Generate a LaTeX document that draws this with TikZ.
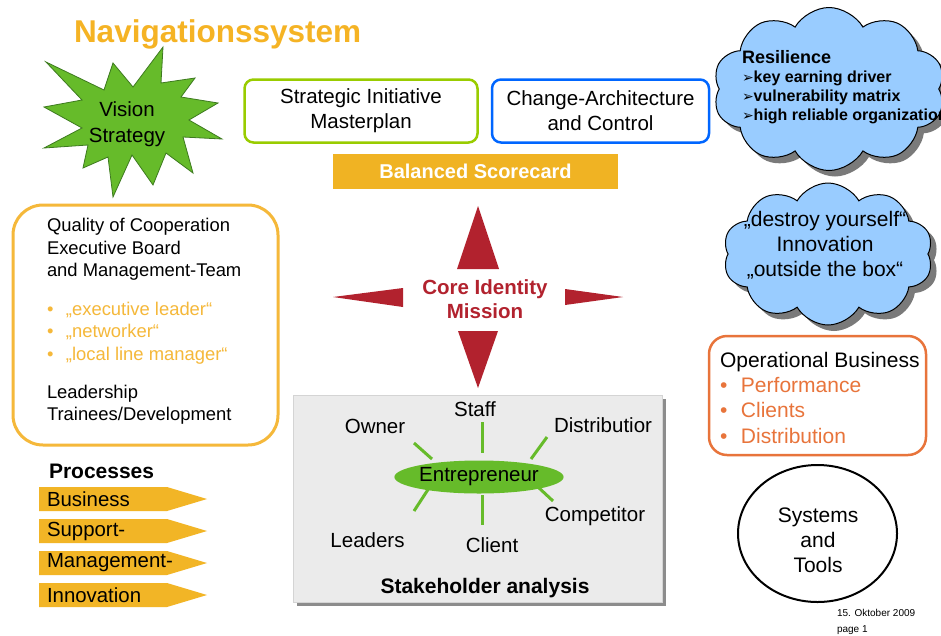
\documentclass[tikz,border=0pt]{standalone}
\usepackage{fontspec}
\setmainfont{Liberation Sans}
\newfontfamily\dvfont{DejaVu Sans}
\usetikzlibrary{shapes.symbols,shapes.geometric}
\definecolor{torange}{HTML}{F5B324}
\definecolor{bsorange}{HTML}{F0B323}
\definecolor{lborange}{HTML}{F5B83A}
\definecolor{procorange}{HTML}{F2B526}
\definecolor{stargreen}{HTML}{66BB2A}
\definecolor{stardark}{HTML}{3D7A1F}
\definecolor{boxgreen}{HTML}{99CC00}
\definecolor{boxblue}{HTML}{0066FF}
\definecolor{cloudblue}{HTML}{99CCFF}
\definecolor{shgray}{HTML}{7A7A7A}
\definecolor{oporange}{HTML}{E8743B}
\definecolor{cred}{HTML}{B2222E}
\definecolor{sbg}{HTML}{EBEBEB}
\definecolor{sbord}{HTML}{D4D4D4}
\definecolor{sshadow}{HTML}{8C8C8C}
\newcommand{\fs}[2]{\fontsize{#1}{#2}\selectfont}
\newcommand{\arrowbul}{{\dvfont\fs{14}{14}➢}}
\begin{document}
\begin{tikzpicture}[x=1pt,y=-1pt,
  every node/.style={inner sep=0pt,outer sep=0pt},
  rbox/.style={rectangle,rounded corners=9pt,line width=2.5pt,align=center,font=\fs{20.5}{25}},
  cloudshape/.style={cloud,cloud puffs=10,cloud puff arc=120,cloud ignores aspect,fill=cloudblue,draw=black,line width=1pt},
  cloudshadow/.style={cloud,cloud puffs=10,cloud puff arc=120,cloud ignores aspect,fill=shgray,draw=none},
  stxt/.style={anchor=base,font=\fs{20.5}{25}},
  spoke/.style={draw=stargreen,line width=3pt},
  arrowtri/.style={fill=cred}]
\clip (0,0) rectangle (941,635);
\fill[white] (0,0) rectangle (941,635);

% title
\node[anchor=base west,text=torange,font=\bfseries\fs{31.5}{36}] (title) at (74,42) {Navigationssystem};

% star
\filldraw[fill=stargreen,draw=stardark,line width=0.8pt]
 (46,62) -- (104,90) -- (113,63) -- (133,87) -- (163,47) -- (161,83) -- (195,78) -- (181,97)
 -- (218,103) -- (189,120) -- (222,139) -- (183,137) -- (193,173) -- (166,153) -- (153,185)
 -- (132,155) -- (113,197) -- (108,157) -- (83,168) -- (88,145) -- (44,148) -- (82,128)
 -- (44,107) -- (82,100) -- cycle;
\node[align=center,font=\fs{20.5}{26}] (vision) at (127,124) {Vision\\Strategy};

% top boxes
\node[rbox,draw=boxgreen,minimum width=233pt,minimum height=63pt] (sim) at (361,111) {Strategic Initiative\\Masterplan};
\node[rbox,draw=boxblue,minimum width=217pt,minimum height=63pt] (cac) at (600.5,111) {Change-Architecture\\and Control};
\node[fill=bsorange,minimum width=285pt,minimum height=35pt,text=white,font=\bfseries\fs{20}{24}] (bsc) at (475.5,171.5) {Balanced Scorecard};

% cloud 1
\node[cloudshadow,minimum width=232pt,minimum height=163pt] (res-sh) at (835,95) {};
\node[cloudshape,minimum width=232pt,minimum height=163pt] (res) at (829,89) {};
\node[anchor=north west,align=left,font=\bfseries\fs{16}{19.3}] (restext) at (742,50)
 {{\fs{18}{19.3}Resilience}\\\arrowbul key earning driver\\\arrowbul vulnerability matrix\\\arrowbul high reliable organization};

% cloud 2
\node[cloudshadow,minimum width=210pt,minimum height=142pt] (inn-sh) at (834,260) {};
\node[cloudshape,minimum width=210pt,minimum height=142pt] (inn) at (828,254) {};
\node[align=center,font=\fs{21}{25.2}] (inntext) at (825,245) {„destroy yourself“\\Innovation\\„outside the box“};

% operational business
\node[draw=oporange,line width=2.5pt,rounded corners=18pt,minimum width=217pt,minimum height=119pt] (op) at (817.5,395.5) {};
\node[anchor=north west,align=left,font=\fs{21}{25.3}] (optext) at (720,352)
 {Operational Business\\
  \textcolor{oporange}{\makebox[21pt][l]{•}Performance}\\
  \textcolor{oporange}{\makebox[21pt][l]{•}Clients}\\
  \textcolor{oporange}{\makebox[21pt][l]{•}Distribution}};

% systems and tools
\node[ellipse,draw=black,line width=2pt,minimum width=159pt,minimum height=137pt] (sys) at (817.5,533.5) {};
\node[align=center,font=\fs{21}{25}] (systext) at (818,540.5) {Systems\\and\\Tools};

% date
\node[anchor=base west,font=\fs{10}{12}] (date) at (837,616) {15. Oktober 2009};
\node[anchor=base west,font=\fs{10}{12}] (page) at (837,632) {page 1};

% left box
\node[draw=lborange,line width=3pt,rounded corners=30pt,minimum width=265pt,minimum height=240pt] (lbox) at (145.5,325) {};
\node[anchor=north west,align=left,font=\fs{18.4}{22.3}] (lboxtext) at (47,218.6)
 {Quality of Cooperation\\
  Executive Board\\
  and Management-Team\\[16.7pt]
  \textcolor{lborange}{\makebox[19pt][l]{•}„executive leader“}\\
  \textcolor{lborange}{\makebox[19pt][l]{•}„networker“}\\
  \textcolor{lborange}{\makebox[19pt][l]{•}„local line manager“}\\[15.7pt]
  Leadership\\
  Trainees/Development};

% processes
\node[anchor=base west,font=\bfseries\fs{21}{25}] (proc) at (49,478) {Processes};
\foreach \y/\t [count=\i] in {499/Business,531/Support-,563/Management-,595/Innovation}{
  \fill[procorange] (39,\y-12) -- (167,\y-12) -- (207,\y) -- (167,\y+12) -- (39,\y+12) -- cycle;
  \node[anchor=west,font=\fs{20.4}{24}] (p\i) at (47,\y) {\t};
}

% core identity compass
\fill[arrowtri] (478,206) -- (499,269) -- (457,269) -- cycle;
\fill[arrowtri] (458,331) -- (498,331) -- (478,388) -- cycle;
\fill[arrowtri] (333,297) -- (403,288) -- (403,307) -- cycle;
\fill[arrowtri] (565,289) -- (623,297) -- (565,305) -- cycle;
\node[align=center,text=cred,font=\bfseries\fs{20.5}{24}] (core) at (485,299.5) {Core Identity\\Mission};

% stakeholder analysis
\fill[sshadow] (297,399) rectangle (666,606);
\node[fill=sbg,draw=sbord,line width=0.6pt,minimum width=369pt,minimum height=207pt] (stk) at (477.5,498.5) {};
\node[ellipse,fill=stargreen,minimum width=144pt,minimum height=33pt,font=\fs{20.5}{25}] (ent) at (479,477) {Entrepreneur};
\coordinate (a1) at (482,422); \coordinate (a2) at (482,453);
\coordinate (b1) at (482,495); \coordinate (b2) at (482,525);
\coordinate (c1) at (414,443); \coordinate (c2) at (432,459);
\coordinate (d1) at (547,437); \coordinate (d2) at (531,459);
\coordinate (e1) at (414,511); \coordinate (e2) at (429,488);
\coordinate (f1) at (538,487); \coordinate (f2) at (553,501);
\draw[spoke] (a1) -- (a2);
\draw[spoke] (b1) -- (b2);
\draw[spoke] (c1) -- (c2);
\draw[spoke] (d1) -- (d2);
\draw[spoke] (e1) -- (e2);
\draw[spoke] (f1) -- (f2);
\node[stxt] (staff) at (475,416) {Staff};
\node[stxt] (owner) at (375,433) {Owner};
\node[stxt] (distr) at (603,432) {Distributior};
\node[stxt] (comp) at (595,521) {Competitor};
\node[stxt] (lead) at (367.5,547) {Leaders};
\node[stxt] (client) at (492,552) {Client};
\node[anchor=base,font=\bfseries\fs{21}{25}] (stktitle) at (485,593) {Stakeholder analysis};
\end{tikzpicture}
\end{document}
